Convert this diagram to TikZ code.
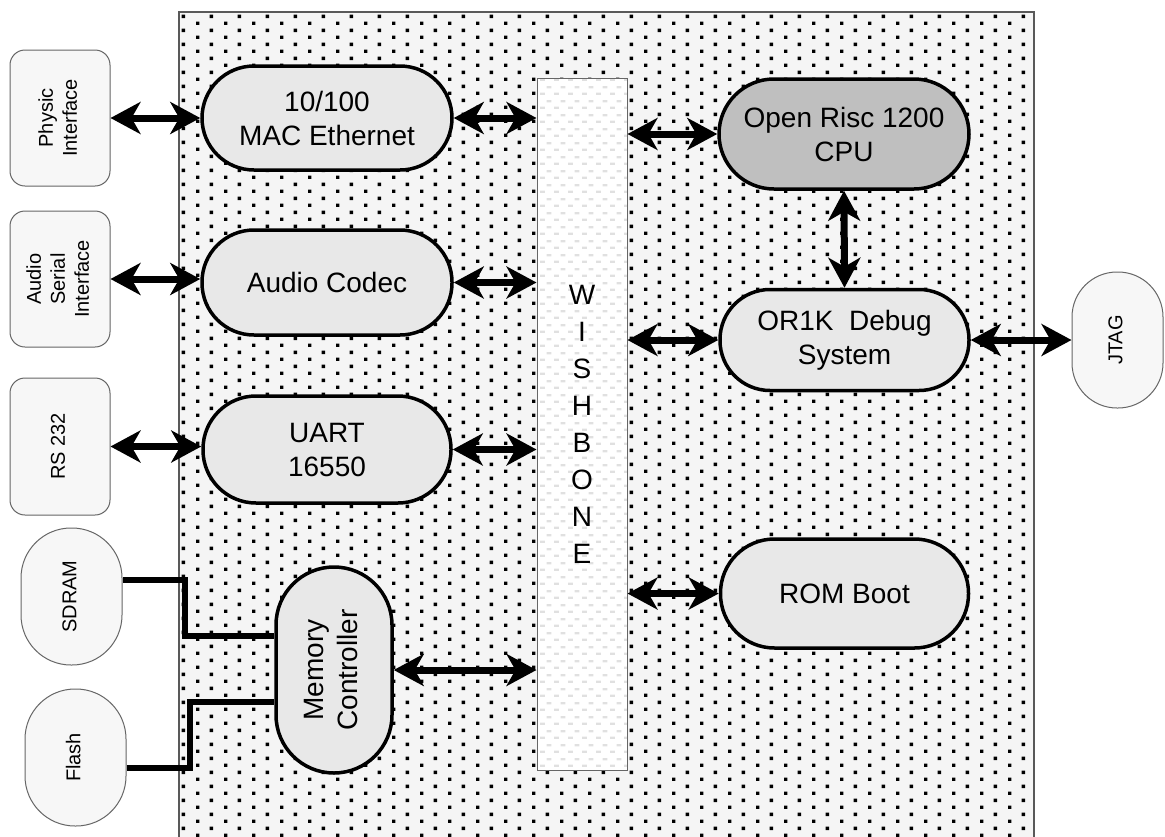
\documentclass[tikz,border=0pt]{standalone}
\usepackage{fontspec}
\setmainfont{Liberation Sans}
\usepackage{graphicx}
\usepackage{xcolor}
\usetikzlibrary{positioning,calc,arrows.meta,patterns}

% staggered dots of the chip area
\pgfdeclarepatternformonly{socdots}{\pgfpointorigin}{\pgfpoint{28pt}{14.4pt}}{\pgfpoint{28pt}{14.4pt}}{%
  \pgfpathrectangle{\pgfpoint{0pt}{0pt}}{\pgfpoint{3.6pt}{3.6pt}}%
  \pgfpathrectangle{\pgfpoint{14pt}{7.2pt}}{\pgfpoint{3.6pt}{3.6pt}}%
  \pgfusepath{fill}}
% short dashes of the bus
\pgfdeclarepatternformonly{busdash}{\pgfpointorigin}{\pgfpoint{13.5pt}{14pt}}{\pgfpoint{13.5pt}{14pt}}{%
  \pgfpathrectangle{\pgfpoint{0pt}{0pt}}{\pgfpoint{5pt}{2.5pt}}%
  \pgfpathrectangle{\pgfpoint{6.75pt}{7pt}}{\pgfpoint{5pt}{2.5pt}}%
  \pgfusepath{fill}}

\newcommand{\sidetext}[1]{\rotatebox{90}{\begin{tabular}{@{}c@{}}#1\end{tabular}}}

\begin{document}
\begin{tikzpicture}[
    x=1pt, y=-1pt, % pixel grid, y downwards
    every node/.style={inner sep=0pt, text centered}, % General node style
    block/.style={draw, line width=3.5pt, fill=black!9, align=center, font=\fontsize{28}{34}\selectfont}, % on-chip core
    cpublk/.style={block, fill=black!25}, % processor
    extbox/.style={draw=black!60, line width=1pt, fill=black!3, rounded corners=15pt, minimum width=100pt, minimum height=136pt, font=\fontsize{20}{24}\selectfont}, % off-chip part
    extpill/.style={extbox, rounded corners=50pt}, % off-chip memory
    link/.style={line width=7pt, >={Stealth[length=30pt, width=32pt, inset=9pt]}, <->}, % bus link
    wire/.style={line width=6pt, line join=miter} % memory lines
]
\useasboundingbox (0,0) rectangle (1165,836);
\clip (0,0) rectangle (1165,836);
\fill[white] (0,0) rectangle (1165,836);
\draw[draw=black!65, line width=1.2pt, preaction={fill=black!4}, pattern=socdots, pattern color=black] (179,12) rectangle (1034,860);

\node[draw=black!60, line width=1pt, minimum width=90pt, minimum height=692pt, preaction={fill=white}, pattern=busdash, pattern color=black!12, align=center, font=\fontsize{28}{37}\selectfont] (wb) at (582,424.5) {W\\I\\S\\H\\B\\O\\N\\E};

\node[block, minimum width=250pt, minimum height=104pt, rounded corners=52pt] (mac) at (327,118) {10/100\\MAC Ethernet};
\node[block, minimum width=250pt, minimum height=105pt, rounded corners=52pt] (codec) at (327,282.5) {Audio Codec};
\node[block, minimum width=248pt, minimum height=107pt, rounded corners=53pt] (uart) at (327,449.5) {UART\\16550};
\node[block, minimum width=116pt, minimum height=206pt, rounded corners=58pt] (mem) at (334,670) {\sidetext{Memory\\Controller}};
\node[cpublk, minimum width=250pt, minimum height=110pt, rounded corners=55pt] (cpu) at (844,134) {Open Risc 1200\\CPU};
\node[block, minimum width=249pt, minimum height=101pt, rounded corners=50pt] (dbg) at (844.5,340) {OR1K~ Debug\\System};
\node[block, minimum width=248pt, minimum height=109pt, rounded corners=54pt] (rom) at (844.5,593.5) {ROM Boot};

\node[extbox] (phy) at (60,118) {\sidetext{Physic\\Interface}};
\node[extbox] (asi) at (60,279) {\sidetext{Audio\\Serial\\Interface}};
\node[extbox, minimum height=137pt] (rs) at (60,446.5) {\sidetext{RS 232}};
\node[extpill, minimum width=101pt, minimum height=137pt] (sdram) at (71.5,596.5) {\sidetext{SDRAM}};
\node[extpill, minimum width=101pt, minimum height=137pt] (flash) at (75.5,757.5) {\sidetext{Flash}};
\node[extpill, minimum width=91pt, rounded corners=45pt] (jtag) at (1117.5,340) {\sidetext{JTAG}};

\draw[link] (phy.east) -- (mac.west);
\draw[link] (mac.east) -- (mac.east -| wb.west);
\draw[link] (asi.east) -- (asi.east -| codec.west);
\draw[link] (codec.east) -- (codec.east -| wb.west);
\draw[link] (rs.east) -- (rs.east -| uart.west);
\draw[link] (uart.east) -- (uart.east -| wb.west);
\draw[link] (mem.east) -- (mem.east -| wb.west);
\draw[link] (cpu.west -| wb.east) -- (cpu.west);
\draw[link] (cpu.south) -- (dbg.north);
\draw[link] (dbg.west -| wb.east) -- (dbg.west);
\draw[link] (dbg.east) -- (dbg.east -| jtag.west);
\draw[link] (rom.west -| wb.east) -- (rom.west);
\draw[wire] ([yshift=17pt]sdram.east) -- ++(62,0) |- ([yshift=34pt]mem.west);
\draw[wire] ([yshift=-10pt]flash.east) -- ++(63,0) |- ([yshift=-32pt]mem.west);
\end{tikzpicture}
\end{document}
